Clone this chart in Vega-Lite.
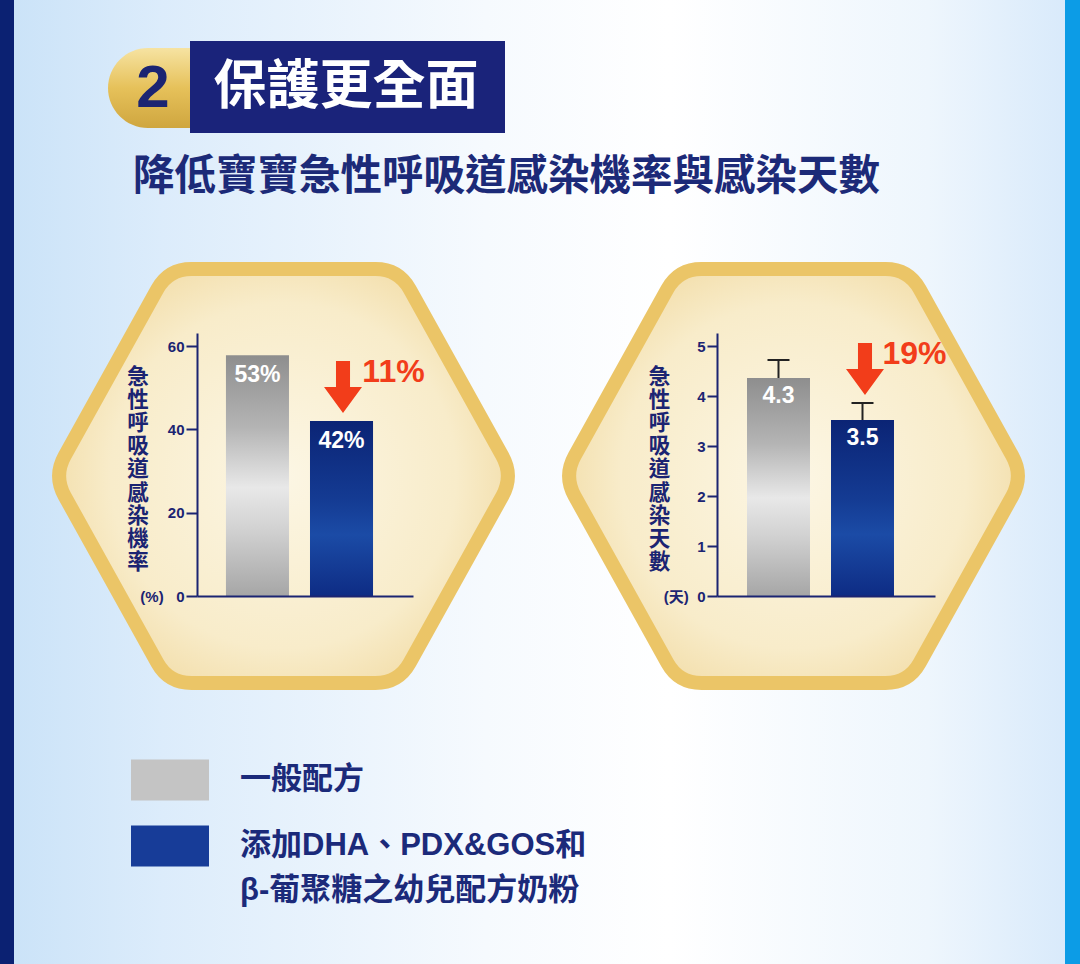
{
  "$schema": "https://vega.github.io/schema/vega-lite/v6.json",
  "padding": 0,
  "background": "#ffffff",
  "bounds": "flush",
  "spacing": 304,
  "config": {"view": {"stroke": null}, "axis": {"grid": false}, "style": {"guide-label": {"lineHeight": 45}}},
  "datasets": {
    "rate": [
      {"group": "一般配方", "value": 57.8, "label": "53%"},
      {"group": "添加DHA、PDX&GOS和β-葡聚糖之幼兒配方奶粉", "value": 42, "label": "42%", "change": "11%"}
    ],
    "days": [
      {"group": "一般配方", "value": 4.36, "upper": 4.72, "label": "4.3"},
      {"group": "添加DHA、PDX&GOS和β-葡聚糖之幼兒配方奶粉", "value": 3.52, "upper": 3.86, "label": "3.5", "change": "19%"}
    ]
  },
  "hconcat": [
    {
      "width": 216,
      "height": 263,
      "layer": [
        {"data": {"values": [{}]}, "mark": {"type": "rect", "x": -197, "x2": 883, "y": -333, "y2": 631,
          "fill": {"gradient": "linear", "x1": 0, "y1": 0, "x2": 1, "y2": 0, "stops": [
            {"offset": 0, "color": "#0b2172"}, {"offset": 0.0129, "color": "#0b2172"},
            {"offset": 0.0131, "color": "#cbe3f8"}, {"offset": 0.15, "color": "#dcecfb"},
            {"offset": 0.45, "color": "#f6fafe"}, {"offset": 0.62, "color": "#ffffff"},
            {"offset": 0.86, "color": "#eef6fd"}, {"offset": 0.9859, "color": "#d9eafb"},
            {"offset": 0.9861, "color": "#0c9ce6"}, {"offset": 1, "color": "#0c9ce6"}]}}, "encoding": {}},
        {"data": {"values": [{}]}, "mark": {"type": "rect", "x": -89, "x2": 40, "y": -285, "y2": -205, "cornerRadius": 40,
          "fill": {"gradient": "linear", "x1": 0, "y1": 0, "x2": 0, "y2": 1, "stops": [
            {"offset": 0, "color": "#f6e3a2"}, {"offset": 0.5, "color": "#e6c15a"}, {"offset": 1, "color": "#cfa63f"}]}}, "encoding": {}},
        {"data": {"values": [{}]}, "mark": {"type": "rect", "x": -7, "x2": 308, "y": -292, "y2": -200, "fill": "#1a237a"}, "encoding": {}},
        {"data": {"values": [{}]}, "mark": {"type": "text", "x": -44, "y": -244, "text": "2", "font": "Liberation Sans", "fontSize": 60, "fontWeight": "bold", "fill": "#1b2472", "align": "center", "baseline": "middle"}, "encoding": {}},
        {"data": {"values": [{}]}, "mark": {"type": "text", "x": 149, "y": -245, "text": "保護更全面", "font": "Noto Sans CJK TC", "fontSize": 53, "fontWeight": "bold", "fill": "#ffffff", "align": "center", "baseline": "middle"}, "encoding": {}},
        {"data": {"values": [{}]}, "mark": {"type": "text", "x": -64, "y": -155, "text": "降低寶寶急性呼吸道感染機率與感染天數", "font": "Noto Sans CJK TC", "fontSize": 41.5, "fontWeight": "bold", "fill": "#1c2a78", "align": "left", "baseline": "middle"}, "encoding": {}},
        {"data": {"values": [{}]}, "mark": {"type": "point", "x": 86.5, "y": 143, "size": 211600, "filled": true, "opacity": 1,
          "shape": "M-0.9514,0.0874 Q-1,0 -0.9514,-0.0874 L-0.5486,-0.8126 Q-0.5,-0.9 -0.4,-0.9 L0.4,-0.9 Q0.5,-0.9 0.5486,-0.8126 L0.9514,-0.0874 Q1,0 0.9514,0.0874 L0.5486,0.8126 Q0.5,0.9 0.4,0.9 L-0.4,0.9 Q-0.5,0.9 -0.5486,0.8126 Z",
          "fill": {"gradient": "radial", "x1": 0.5, "y1": 0.5, "r1": 0, "x2": 0.5, "y2": 0.5, "r2": 0.55, "stops": [
            {"offset": 0, "color": "#fcf6e4"}, {"offset": 0.7, "color": "#f8ecca"}, {"offset": 1, "color": "#f2dca6"}]},
          "stroke": "#ebc567", "strokeWidth": 14}, "encoding": {}},
        {"data": {"name": "rate"},
          "mark": {"type": "point", "filled": true, "size": 1, "opacity": 1, "shape": "square", "yOffset": 30},
          "encoding": {
            "x": {"field": "group", "type": "nominal"},
            "y": {"field": "value", "type": "quantitative"},
            "color": {"field": "group", "type": "nominal",
              "scale": {"domain": ["一般配方", "添加DHA、PDX&GOS和β-葡聚糖之幼兒配方奶粉"], "range": ["#c4c4c4", "#173c98"]},
              "legend": {
                "orient": "none", "legendX": -66, "legendY": 408, "title": null, "padding": 0,
                "symbolType": "M-1,-0.526H1V0.526H-1Z", "symbolSize": 6084, "symbolStrokeWidth": 0,
                "labelFont": "Liberation Sans, Noto Sans CJK TC", "labelFontSize": 31, "labelFontWeight": "bold",
                "labelColor": "#1b2a7a", "labelOffset": 31, "labelLimit": 0, "rowPadding": 6,
                "labelBaseline": "middle",
                "labelExpr": "datum.value == '一般配方' ? datum.value : ['添加DHA、PDX&GOS和', 'β-葡聚糖之幼兒配方奶粉']"
              }
            }
          }
        },
        {"data": {"name": "rate"},
          "transform": [{"filter": "datum.group == '一般配方'"}],
          "mark": {"type": "bar", "fill": {"gradient": "linear", "x1": 0, "y1": 0, "x2": 0, "y2": 1, "stops": [
            {"offset": 0, "color": "#8e8e8e"}, {"offset": 0.3, "color": "#b4b4b4"}, {"offset": 0.55, "color": "#e8e8e8"},
            {"offset": 0.72, "color": "#d2d2d2"}, {"offset": 1, "color": "#a6a6a6"}]}},
          "encoding": {
            "x": {"field": "group", "type": "nominal", "sort": null,
              "scale": {"domain": ["一般配方", "添加DHA、PDX&GOS和β-葡聚糖之幼兒配方奶粉"], "paddingInner": 0.25, "paddingOuter": 0.41, "align": 0.42},
              "axis": {"title": null, "labels": false, "ticks": false, "domainColor": "#1b2472", "domainWidth": 2, "zindex": 1}},
            "y": {"field": "value", "type": "quantitative",
              "scale": {"domain": [0, 63.12], "nice": false, "zero": true},
              "axis": {"values": [0, 20, 40, 60],
                "title": ["急", "性", "呼", "吸", "道", "感", "染", "機", "率"],
                "titleAngle": 0, "titleX": -59.5, "titleY": 33, "titleAlign": "center", "titleBaseline": "top",
                "titleFont": "Noto Sans CJK TC", "titleFontSize": 21.5, "titleFontWeight": "bold", "titleColor": "#1b2472", "titleLineHeight": 23.2,
                "labelFont": "Liberation Sans", "labelFontSize": 15, "labelFontWeight": "bold", "labelColor": "#1b2472", "labelPadding": 2,
                "labelExpr": "datum.value == 0 ? '(%)\u00a0\u00a0\u00a00' : datum.label",
                "tickSize": 11, "tickWidth": 2, "tickColor": "#1b2472", "domainColor": "#1b2472", "domainWidth": 2, "zindex": 1}}
          }
        },
        {"data": {"name": "rate"},
          "transform": [{"filter": "datum.group != '一般配方'"}],
          "mark": {"type": "bar", "fill": {"gradient": "linear", "x1": 0, "y1": 0, "x2": 0, "y2": 1, "stops": [
            {"offset": 0, "color": "#0b2475"}, {"offset": 0.45, "color": "#143b93"}, {"offset": 0.65, "color": "#1b4ba6"}, {"offset": 1, "color": "#0e2c84"}]}},
          "encoding": {
            "x": {"field": "group", "type": "nominal"},
            "y": {"field": "value", "type": "quantitative"}
          }
        },
        {"data": {"name": "rate"},
          "mark": {"type": "text", "font": "Liberation Sans", "fontSize": 23, "fontWeight": "bold", "color": "#ffffff", "baseline": "middle", "dy": 20},
          "encoding": {
            "x": {"field": "group", "type": "nominal"},
            "y": {"field": "value", "type": "quantitative"},
            "text": {"field": "label"}
          }
        },
        {"data": {"name": "rate"},
          "transform": [{"filter": "isValid(datum.change)"}],
          "mark": {"type": "point", "filled": true, "opacity": 1, "size": 2704, "color": "#f23d1a", "yOffset": -34, "xOffset": 1.5,
            "shape": "M-0.27,-1L0.27,-1L0.27,0L0.73,0L0,1L-0.73,0L-0.27,0Z"},
          "encoding": {
            "x": {"field": "group", "type": "nominal"},
            "y": {"field": "value", "type": "quantitative"}
          }
        },
        {"data": {"name": "rate"},
          "transform": [{"filter": "isValid(datum.change)"}],
          "mark": {"type": "text", "font": "Liberation Sans", "fontSize": 32, "fontWeight": "bold", "color": "#f23d1a", "align": "center", "baseline": "middle", "dx": 52, "dy": -49.5},
          "encoding": {
            "x": {"field": "group", "type": "nominal"},
            "y": {"field": "value", "type": "quantitative"},
            "text": {"field": "change"}
          }
        }
      ]
    },
    {
      "width": 218,
      "height": 263,
      "layer": [
        {"data": {"values": [{}]}, "mark": {"type": "point", "x": 76.5, "y": 143, "size": 211600, "filled": true, "opacity": 1,
          "shape": "M-0.9514,0.0874 Q-1,0 -0.9514,-0.0874 L-0.5486,-0.8126 Q-0.5,-0.9 -0.4,-0.9 L0.4,-0.9 Q0.5,-0.9 0.5486,-0.8126 L0.9514,-0.0874 Q1,0 0.9514,0.0874 L0.5486,0.8126 Q0.5,0.9 0.4,0.9 L-0.4,0.9 Q-0.5,0.9 -0.5486,0.8126 Z",
          "fill": {"gradient": "radial", "x1": 0.5, "y1": 0.5, "r1": 0, "x2": 0.5, "y2": 0.5, "r2": 0.55, "stops": [
            {"offset": 0, "color": "#fcf6e4"}, {"offset": 0.7, "color": "#f8ecca"}, {"offset": 1, "color": "#f2dca6"}]},
          "stroke": "#ebc567", "strokeWidth": 14}, "encoding": {}},
        {"data": {"name": "days"},
          "transform": [{"filter": "datum.group == '一般配方'"}],
          "mark": {"type": "bar", "fill": {"gradient": "linear", "x1": 0, "y1": 0, "x2": 0, "y2": 1, "stops": [
            {"offset": 0, "color": "#8e8e8e"}, {"offset": 0.3, "color": "#b4b4b4"}, {"offset": 0.55, "color": "#e8e8e8"},
            {"offset": 0.72, "color": "#d2d2d2"}, {"offset": 1, "color": "#a6a6a6"}]}},
          "encoding": {
            "x": {"field": "group", "type": "nominal", "sort": null,
              "scale": {"domain": ["一般配方", "添加DHA、PDX&GOS和β-葡聚糖之幼兒配方奶粉"], "paddingInner": 0.25, "paddingOuter": 0.4226, "align": 0.4225},
              "axis": {"title": null, "labels": false, "ticks": false, "domainColor": "#1b2472", "domainWidth": 2, "zindex": 1}},
            "y": {"field": "value", "type": "quantitative",
              "scale": {"domain": [0, 5.26], "nice": false, "zero": true},
              "axis": {"values": [0, 1, 2, 3, 4, 5],
                "title": ["急", "性", "呼", "吸", "道", "感", "染", "天", "數"],
                "titleAngle": 0, "titleX": -58, "titleY": 33, "titleAlign": "center", "titleBaseline": "top",
                "titleFont": "Noto Sans CJK TC", "titleFontSize": 21.5, "titleFontWeight": "bold", "titleColor": "#1b2472", "titleLineHeight": 23.2,
                "labelFont": "Liberation Sans, Noto Sans CJK TC", "labelFontSize": 15, "labelFontWeight": "bold", "labelColor": "#1b2472", "labelPadding": 2,
                "labelExpr": "datum.value == 0 ? '(天)\u00a0\u00a00' : datum.label",
                "tickSize": 10, "tickWidth": 2, "tickColor": "#1b2472", "domainColor": "#1b2472", "domainWidth": 2, "zindex": 1}}
          }
        },
        {"data": {"name": "days"},
          "transform": [{"filter": "datum.group != '一般配方'"}],
          "mark": {"type": "bar", "fill": {"gradient": "linear", "x1": 0, "y1": 0, "x2": 0, "y2": 1, "stops": [
            {"offset": 0, "color": "#0b2475"}, {"offset": 0.45, "color": "#143b93"}, {"offset": 0.65, "color": "#1b4ba6"}, {"offset": 1, "color": "#0e2c84"}]}},
          "encoding": {
            "x": {"field": "group", "type": "nominal"},
            "y": {"field": "value", "type": "quantitative"}
          }
        },
        {"data": {"name": "days"},
          "mark": {"type": "rule", "color": "#222222", "strokeWidth": 2},
          "encoding": {
            "x": {"field": "group", "type": "nominal"},
            "y": {"field": "value", "type": "quantitative"},
            "y2": {"field": "upper"}
          }
        },
        {"data": {"name": "days"},
          "mark": {"type": "tick", "orient": "horizontal", "color": "#222222", "thickness": 2, "size": 22, "opacity": 1},
          "encoding": {
            "x": {"field": "group", "type": "nominal"},
            "y": {"field": "upper", "type": "quantitative"}
          }
        },
        {"data": {"name": "days"},
          "mark": {"type": "text", "font": "Liberation Sans", "fontSize": 23, "fontWeight": "bold", "color": "#ffffff", "baseline": "middle", "dy": 18},
          "encoding": {
            "x": {"field": "group", "type": "nominal"},
            "y": {"field": "value", "type": "quantitative"},
            "text": {"field": "label"}
          }
        },
        {"data": {"name": "days"},
          "transform": [{"filter": "isValid(datum.change)"}],
          "mark": {"type": "point", "filled": true, "opacity": 1, "size": 2704, "color": "#f23d1a", "yOffset": -51, "xOffset": 2.5,
            "shape": "M-0.27,-1L0.27,-1L0.27,0L0.73,0L0,1L-0.73,0L-0.27,0Z"},
          "encoding": {
            "x": {"field": "group", "type": "nominal"},
            "y": {"field": "value", "type": "quantitative"}
          }
        },
        {"data": {"name": "days"},
          "transform": [{"filter": "isValid(datum.change)"}],
          "mark": {"type": "text", "font": "Liberation Sans", "fontSize": 32, "fontWeight": "bold", "color": "#f23d1a", "align": "center", "baseline": "middle", "dx": 52, "dy": -66},
          "encoding": {
            "x": {"field": "group", "type": "nominal"},
            "y": {"field": "value", "type": "quantitative"},
            "text": {"field": "change"}
          }
        }
      ]
    }
  ]
}
